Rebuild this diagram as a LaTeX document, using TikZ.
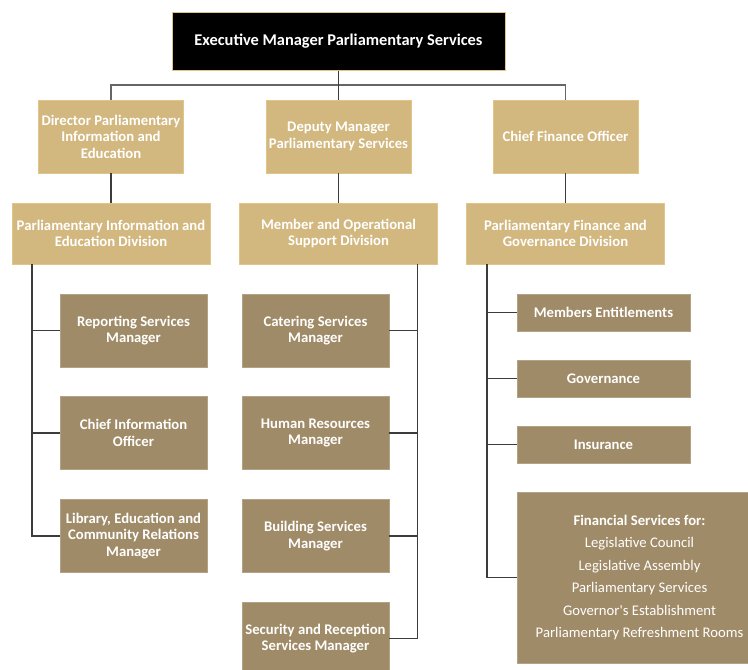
\documentclass[tikz,border=0pt]{standalone}
\usepackage{fontspec}
\setmainfont{Carlito}
\definecolor{goldlight}{HTML}{D2B77F}
\definecolor{golddark}{HTML}{A08B68}
\definecolor{goldedge}{HTML}{E2C487}
\definecolor{linegray}{HTML}{3C3C3C}
\begin{document}
\begin{tikzpicture}[x=1pt,y=-1pt,
    topbox/.style={fill=black,draw=goldedge,line width=1pt,text=white,inner sep=0pt,
      font=\bfseries\fontsize{16.4}{19}\selectfont,minimum width=333pt,minimum height=58pt},
    headbox/.style={fill=goldlight,draw=goldedge,line width=0.5pt,text=white,inner sep=0pt,
      align=center,font=\bfseries\fontsize{14.7}{16.5}\selectfont},
    unitbox/.style={fill=golddark,draw=golddark!80!white,line width=0.5pt,text=white,inner sep=0pt,
      align=center,font=\bfseries\fontsize{14.7}{16.7}\selectfont},
    link/.style={draw=linegray,line width=1.3pt}]
  \useasboundingbox (0,0) rectangle (748,670);

  % top and second level
  \node[topbox] (exec) at (338.5,41) {Executive Manager Parliamentary Services};
  \node[headbox,minimum width=145pt,minimum height=73pt] (dir) at (111,136.5) {Director Parliamentary\\Information and\\Education};
  \node[headbox,minimum width=145pt,minimum height=73pt] (dep) at (338.5,136.5) {Deputy Manager\\Parliamentary Services};
  \node[headbox,minimum width=145pt,minimum height=73pt] (cfo) at (565.5,136.5) {Chief Finance Officer};

  % divisions
  \node[headbox,minimum width=198pt,minimum height=61pt] (pied) at (111,233.5) {Parliamentary Information and\\Education Division};
  \node[headbox,minimum width=198pt,minimum height=61pt] (mosd) at (338.5,233.5) {Member and Operational\\Support Division};
  \node[headbox,minimum width=198pt,minimum height=61pt] (pfgd) at (565.5,233.5) {Parliamentary Finance and\\Governance Division};

  % left column
  \node[unitbox,minimum width=147pt,minimum height=73pt] (rep) at (133.5,330.5) {Reporting Services\\Manager};
  \node[unitbox,minimum width=147pt,minimum height=73pt] (cio) at (133.5,433) {Chief Information\\Officer};
  \node[unitbox,minimum width=147pt,minimum height=73pt] (lib) at (133.5,536) {Library, Education and\\Community Relations\\Manager};

  % middle column
  \node[unitbox,minimum width=147pt,minimum height=73pt] (cat) at (315.5,330.5) {Catering Services\\Manager};
  \node[unitbox,minimum width=147pt,minimum height=73pt] (hrm) at (315.5,433) {Human Resources\\Manager};
  \node[unitbox,minimum width=147pt,minimum height=73pt] (bld) at (315.5,536) {Building Services\\Manager};
  \node[unitbox,minimum width=147pt,minimum height=73pt] (sec) at (315.5,638.5) {Security and Reception\\Services Manager};

  % right column
  \node[unitbox,minimum width=173pt,minimum height=37pt] (ment) at (603.5,312.5) {Members Entitlements};
  \node[unitbox,minimum width=173pt,minimum height=37pt] (gov) at (603.5,378.5) {Governance};
  \node[unitbox,minimum width=173pt,minimum height=37pt] (ins) at (603.5,444.5) {Insurance};
  \node[unitbox,minimum width=245pt,minimum height=171pt,font=\fontsize{14.7}{22.5}\selectfont] (fin) at (639.5,577.5)
    {\textbf{Financial Services for:}\\Legislative Council\\Legislative Assembly\\Parliamentary Services\\Governor\textquotesingle s Establishment\\Parliamentary Refreshment Rooms};

  % connectors
  \coordinate (bus) at (338.5,85);
  \draw[link,draw=gray!80!black] (dir.north) |- (bus) -| (cfo.north);
  \draw[link] (exec.south) -- (dep.north);
  \draw[link] (dir.south) -- (pied.north);
  \draw[link] (dep.south) -- (mosd.north);
  \draw[link] (cfo.south) -- (pfgd.north);

  \coordinate (lspine) at (32,0);
  \coordinate (mspine) at (417.5,0);
  \coordinate (rspine) at (487,0);
  \draw[link] (pied.south -| lspine) |- (lib.west);
  \foreach \n in {rep,cio} \draw[link] (\n.west -| lspine) -- (\n.west);
  \draw[link] (mosd.south -| mspine) |- (sec.east);
  \foreach \n in {cat,hrm,bld} \draw[link] (\n.east -| mspine) -- (\n.east);
  \draw[link] (pfgd.south -| rspine) |- (fin.west);
  \foreach \n in {ment,gov,ins} \draw[link] (\n.west -| rspine) -- (\n.west);

\end{tikzpicture}
\end{document}
